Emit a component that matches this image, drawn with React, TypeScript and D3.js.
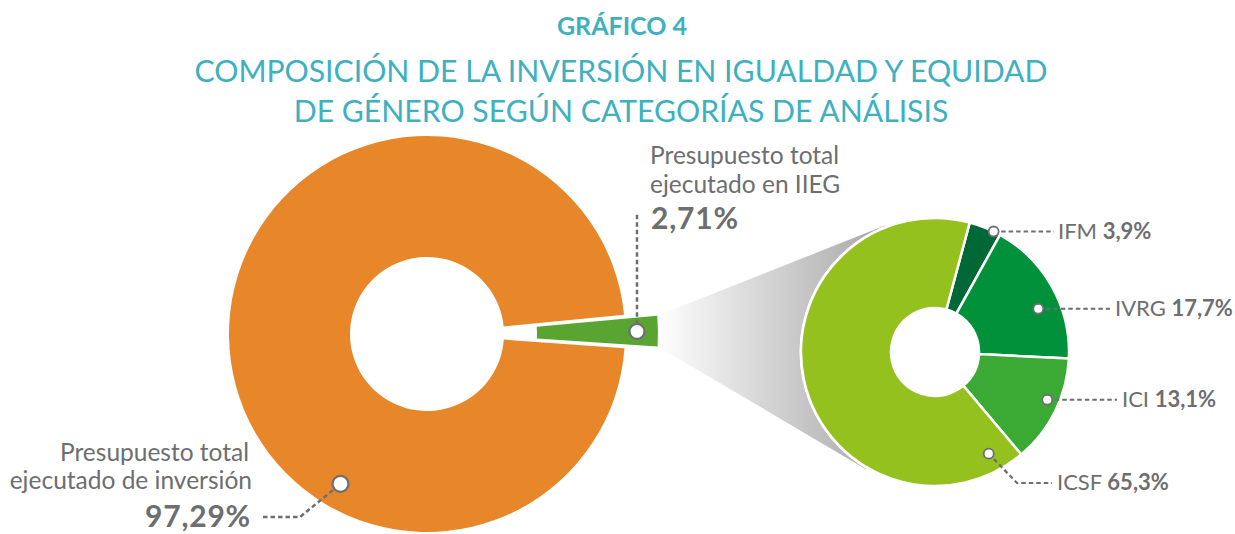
import React from "react";
import * as d3 from "d3";

const titleLines = [
  "GRÁFICO 4",
  "COMPOSICIÓN DE LA INVERSIÓN EN IGUALDAD Y EQUIDAD",
  "DE GÉNERO SEGÚN CATEGORÍAS DE ANÁLISIS",
];

const mainCategories = ["Presupuesto total ejecutado en IIEG", "Presupuesto total ejecutado de inversión"];
const mainValues = [2.71, 97.29];
const mainLabelLines = [
  ["Presupuesto total", "ejecutado en IIEG"],
  ["Presupuesto total", "ejecutado de inversión"],
];

const subCategories = ["IFM", "IVRG", "ICI", "ICSF"];
const subValues = [3.9, 17.7, 13.1, 65.3];

const W = 1235;
const H = 534;
const TEAL = "#3db1c0";
const GREY = "#6d6e70";
const FONT = "Lato, 'Open Sans', sans-serif";

const mainColors = ["#5aa532", "#e8872a"];
const subColors = ["#006837", "#00913a", "#3aaa35", "#95c11f"];

const deg = (d: number) => (d * Math.PI) / 180;
const locale = d3.formatLocale({ decimal: ",", thousands: ".", grouping: [3], currency: ["", ""] });
const fmt2 = locale.format(".2f");
const fmt1 = locale.format(".1f");

const polar = (cx: number, cy: number, r: number, a: number): [number, number] => [
  cx + r * Math.sin(a),
  cy - r * Math.cos(a),
];

export default function App() {
  // main donut
  const mc = { x: 427, y: 334 };
  const mInner = 77;
  const mOuter = 198;
  const explode = 33;
  const a0 = deg(84.4);
  const mainPie = d3.pie<number>().sort(null).startAngle(a0).endAngle(a0 + 2 * Math.PI)(mainValues);
  const mainArc = d3.arc<any>().innerRadius(mInner).outerRadius(mOuter);
  const green = mainPie[0];
  const orange = mainPie[1];
  const gMid = (green.startAngle + green.endAngle) / 2;
  const shrink = deg(0.45);
  const gS = green.startAngle + shrink;
  const gE = green.endAngle - shrink;
  const ex = explode * Math.sin(gMid);
  const ey = -explode * Math.cos(gMid);
  const gc = { x: mc.x + ex, y: mc.y + ey };

  // sub donut
  const sc = { x: 935, y: 352 };
  const sInner = 44;
  const sOuter = 134;
  const sPie = d3.pie<number>().sort(null).startAngle(deg(15)).endAngle(deg(375))(subValues);
  const sArc = d3.arc<any>().innerRadius(sInner).outerRadius(sOuter);

  // connector
  const pTop = polar(gc.x, gc.y, mOuter, gS);
  const pBot = polar(gc.x, gc.y, mOuter, gE);
  const R = sOuter + 2;
  const tangent = (p: [number, number], sign: number): [number, number] => {
    const dx = sc.x - p[0];
    const dy = sc.y - p[1];
    const d = Math.hypot(dx, dy);
    const phi = Math.atan2(dy, dx);
    const al = Math.asin(R / d);
    const L = Math.sqrt(d * d - R * R);
    const ang = phi + sign * al;
    return [p[0] + L * Math.cos(ang), p[1] + L * Math.sin(ang)];
  };
  const tTop = tangent(pTop, -1);
  const tBot = tangent(pBot, 1);
  const connector = d3.line()([pTop, tTop, [sc.x, sc.y], tBot, pBot]) + "Z";

  // markers
  const greenMarker = polar(gc.x, gc.y, 177, gMid);
  const orangeMarker = polar(mc.x, mc.y, 173, deg(210));

  const subLayout = [
    { frac: 0.78, r: 134, lineEnd: 1054, textX: 1058 },
    { frac: 0.6, r: 112, lineEnd: 1110, textX: 1115 },
    { frac: 0.43, r: 122, lineEnd: 1117, textX: 1122 },
    { frac: 0.052, r: 115, lineEnd: 1052, textX: 1057, elbow: [1017, 483] },
  ];

  const dash = "4.5 3";

  return (
    <svg width={W} height={H} style={{ position: "absolute", left: 0, top: 0, background: "#fff" }} fontFamily={FONT}>
      <defs>
        <linearGradient id="conn" gradientUnits="userSpaceOnUse" x1={pTop[0]} y1={0} x2={865} y2={0}>
          <stop offset="0" stopColor="#ffffff" />
          <stop offset="1" stopColor="#aeaeae" />
        </linearGradient>
      </defs>

      {/* titles */}
      <text x={622} y={35} textAnchor="middle" fill={TEAL} fontSize={25} fontWeight={700}>
        {titleLines[0]}
      </text>
      <text x={621} y={82} textAnchor="middle" fill={TEAL} fontSize={30.2} fontWeight={400}>
        {titleLines[1]}
      </text>
      <text x={621} y={122} textAnchor="middle" fill={TEAL} fontSize={30.2} fontWeight={400}>
        {titleLines[2]}
      </text>

      {/* connector */}
      <path d={connector} fill="url(#conn)" />

      {/* main donut */}
      <path
        d={mainArc({ ...orange, padAngle: 0 }) as string}
        transform={`translate(${mc.x},${mc.y})`}
        fill={mainColors[1]}
      />
      <path
        d={mainArc({ ...green, startAngle: gS, endAngle: gE, padAngle: 0 }) as string}
        transform={`translate(${gc.x},${gc.y})`}
        fill={mainColors[0]}
      />

      {/* sub donut */}
      <g transform={`translate(${sc.x},${sc.y})`}>
        <circle r={sOuter + 1.5} fill="#fff" />
        {sPie.map((d, i) => (
          <path key={subCategories[i]} d={sArc(d) as string} fill={subColors[i]} stroke="#fff" strokeWidth={2.5} />
        ))}
      </g>

      {/* green label */}
      <line x1={greenMarker[0]} y1={greenMarker[1] - 7} x2={greenMarker[0]} y2={213} stroke={GREY} strokeWidth={2.5} strokeDasharray={dash} />
      <circle cx={greenMarker[0]} cy={greenMarker[1]} r={7.5} fill="#fff" stroke={GREY} strokeWidth={2.2} />
      <text x={650} y={164} fill={GREY} fontSize={24.5}>{mainLabelLines[0][0]}</text>
      <text x={650} y={193} fill={GREY} fontSize={24.5}>{mainLabelLines[0][1]}</text>
      <text x={651} y={229} fill={GREY} fontSize={30} fontWeight={700} letterSpacing={0.8}>{fmt2(mainValues[0]) + "%"}</text>

      {/* orange label */}
      <polyline
        points={`263,517 300,517 ${orangeMarker[0] - 6},${orangeMarker[1] + 5}`}
        fill="none"
        stroke={GREY}
        strokeWidth={2.5}
        strokeDasharray={dash}
      />
      <circle cx={orangeMarker[0]} cy={orangeMarker[1]} r={8} fill="#fff" stroke={GREY} strokeWidth={2.2} />
      <text x={249} y={461} textAnchor="end" fill={GREY} fontSize={24.5}>{mainLabelLines[1][0]}</text>
      <text x={252} y={489} textAnchor="end" fill={GREY} fontSize={24.5}>{mainLabelLines[1][1]}</text>
      <text x={251} y={527} textAnchor="end" fill={GREY} fontSize={30} fontWeight={700} letterSpacing={0.8}>{fmt2(mainValues[1]) + "%"}</text>

      {/* sub labels */}
      {sPie.map((d, i) => {
        const lay = subLayout[i];
        const a = d.startAngle + (d.endAngle - d.startAngle) * lay.frac;
        const m = polar(sc.x, sc.y, lay.r, a);
        const pts: [number, number][] = [m];
        let ly = m[1];
        if (lay.elbow) {
          pts.push(lay.elbow as [number, number]);
          ly = lay.elbow[1];
        }
        pts.push([lay.lineEnd, ly]);
        return (
          <g key={subCategories[i]}>
            <path d={d3.line()(pts) as string} fill="none" stroke={GREY} strokeWidth={2.2} strokeDasharray={dash} />
            <circle cx={m[0]} cy={m[1]} r={5} fill="#fff" stroke={GREY} strokeWidth={1.8} />
            <text x={lay.textX} y={ly + 7} fill={GREY} fontSize={22}>
              {subCategories[i] + " "}
              <tspan fontWeight={700}>{fmt1(subValues[i]) + "%"}</tspan>
            </text>
          </g>
        );
      })}
    </svg>
  );
}
